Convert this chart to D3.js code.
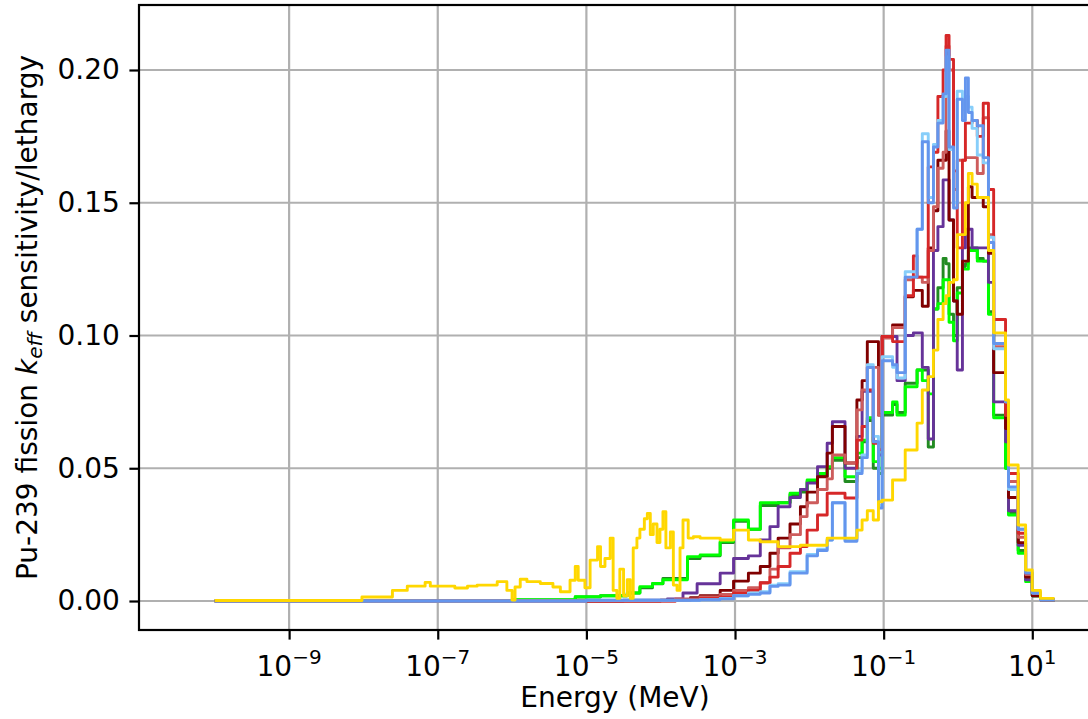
<!DOCTYPE html>
<html>
<head>
<meta charset="utf-8">
<script src="https://cdn.jsdelivr.net/npm/d3@7"></script>
<style>
body { margin: 0; background: #fff; }
svg { display: block; font-family: "DejaVu Sans", sans-serif; }
</style>
</head>
<body>
<svg id="fig" width="1088" height="719"></svg>
<script>

//------------------- data : log10(E / MeV) bin starts and sensitivity per lethargy -------------------

// group edges shared by every case above ~3e-4 MeV
const hiEdges = [-3.47, -3.20, -3.02, -2.82, -2.66, -2.53, -2.42, -2.26, -2.12, -2.03,
    -1.89, -1.76, -1.69, -1.52, -1.36, -1.29, -1.22, -1.14, -1.07, -1.02,
    -0.88, -0.82, -0.71, -0.60, -0.55, -0.48, -0.40, -0.33, -0.27, -0.20,
    -0.16, -0.12, -0.06, -0.01, 0.06, 0.10, 0.14, 0.19, 0.26, 0.34,
    0.41, 0.48, 0.64, 0.68, 0.81, 0.91, 1.00, 1.11, 1.30]

// low energy part, [log10 E, value]
const goldLo = [[-10.0, 0.0002], [-8.02, 0.0015], [-7.61, 0.004], [-7.41, 0.0056], [-7.17, 0.007],
    [-7.10, 0.0056], [-6.77, 0.0049], [-6.60, 0.0056], [-6.47, 0.006], [-6.20, 0.0073],
    [-6.07, 0.004], [-6.00, 0.0004], [-5.96, 0.0053], [-5.89, 0.0082], [-5.80, 0.0073],
    [-5.62, 0.0066], [-5.45, 0.0053], [-5.35, 0.0035], [-5.22, 0.0078], [-5.15, 0.013],
    [-5.11, 0.0078], [-5.02, 0.005], [-4.95, 0.0154], [-4.85, 0.0205], [-4.81, 0.013],
    [-4.75, 0.016], [-4.68, 0.0237], [-4.64, 0.004], [-4.59, 0.001], [-4.55, 0.012],
    [-4.50, 0.002], [-4.45, 0.008], [-4.41, 0.001], [-4.37, 0.02], [-4.32, 0.0237],
    [-4.28, 0.027], [-4.22, 0.031], [-4.18, 0.033], [-4.14, 0.025], [-4.10, 0.029],
    [-4.05, 0.022], [-4.01, 0.027], [-3.97, 0.0336], [-3.93, 0.02], [-3.87, 0.026],
    [-3.83, 0.006], [-3.78, 0.004], [-3.74, 0.02], [-3.70, 0.0305], [-3.63, 0.0237],
    [-3.56, 0.0242]]
const limeLo = [[-10.0, 0], [-6.0, 0.0005], [-5.15, 0.0016], [-4.81, 0.002], [-4.45, 0.003],
    [-4.28, 0.0054], [-4.11, 0.0066], [-3.97, 0.008], [-3.64, 0.0167]]
const forestLo = [[-10.0, 0], [-6.0, 0.0004], [-5.15, 0.0015], [-4.81, 0.002], [-4.45, 0.003],
    [-4.28, 0.005], [-4.11, 0.0065], [-3.97, 0.0085], [-3.64, 0.016]]
const purpleLo = [[-10.0, 0], [-4.5, 0.0003], [-3.91, 0.0008], [-3.70, 0.003], [-3.51, 0.0065]]
const maroonLo = [[-10.0, 0], [-4.0, 0.0003], [-3.6, 0.0012]]
const redLo = [[-10.0, 0], [-3.8, 0.0005]]
const indianLo = [[-10.0, 0], [-3.8, 0.0008]]
const skyLo = [[-10.0, 0], [-5.0, 0.0003]]
const cornLo = [[-10.0, 0], [-5.0, 0.0003]]

// values on hiEdges bins
const goldHi = [0.0237, 0.023, 0.0267, 0.023, 0.0223, 0.0223, 0.0205, 0.0205,
    0.021, 0.021, 0.021, 0.0237, 0.0237, 0.0237, 0.0267, 0.0305,
    0.034, 0.0305, 0.0374, 0.038, 0.0456, 0.0456, 0.0569, 0.0569,
    0.067, 0.0795, 0.0845, 0.0945, 0.106, 0.112, 0.115, 0.12,
    0.121, 0.138, 0.138, 0.15, 0.161, 0.157, 0.152, 0.152,
    0.132, 0.101, 0.0757, 0.0512, 0.0286, 0.0117, 0.004, 0.001]
const limeHi = [0.0173, 0.0225, 0.0305, 0.027, 0.037, 0.037, 0.037, 0.0406,
    0.042, 0.0456, 0.048, 0.0506, 0.054, 0.0468, 0.0557, 0.0606,
    0.069, 0.0525, 0.05, 0.071, 0.075, 0.070, 0.0807, 0.0807,
    0.087, 0.083, 0.078, 0.11, 0.112, 0.121, 0.121, 0.105,
    0.098, 0.116, 0.125, 0.125, 0.132, 0.132, 0.128, 0.128,
    0.108, 0.069, 0.05, 0.0324, 0.018, 0.0073, 0.002, 0.0005]
const forestHi = [0.017, 0.022, 0.03, 0.027, 0.036, 0.036, 0.037, 0.04,
    0.041, 0.045, 0.047, 0.05, 0.053, 0.045, 0.054, 0.06,
    0.068, 0.05, 0.048, 0.07, 0.074, 0.071, 0.082, 0.082,
    0.087, 0.087, 0.058, 0.11, 0.118, 0.129, 0.127, 0.108,
    0.1, 0.118, 0.126, 0.127, 0.133, 0.133, 0.129, 0.128,
    0.109, 0.07, 0.05, 0.033, 0.019, 0.008, 0.002, 0.0005]
const purpleHi = [0.0065, 0.0105, 0.016, 0.017, 0.023, 0.028, 0.0355, 0.039,
    0.042, 0.0444, 0.0506, 0.0594, 0.0675, 0.05, 0.062, 0.079,
    0.079, 0.06, 0.055, 0.0996, 0.0996, 0.083, 0.100, 0.101,
    0.101, 0.088, 0.061, 0.132, 0.141, 0.1586, 0.1586, 0.1435,
    0.113, 0.087, 0.133, 0.14, 0.14, 0.133, 0.133, 0.133,
    0.12, 0.075, 0.06, 0.034, 0.021, 0.008, 0.002, 0.0005]
const maroonHi = [0.002, 0.004, 0.0075, 0.0105, 0.013, 0.018, 0.0237, 0.029,
    0.0355, 0.041, 0.0468, 0.0557, 0.0657, 0.052, 0.0757, 0.083,
    0.0977, 0.0977, 0.07, 0.0996, 0.104, 0.104, 0.1146, 0.117,
    0.117, 0.111, 0.133, 0.147, 0.166, 0.166, 0.177, 0.1435,
    0.113, 0.108, 0.128, 0.128, 0.156, 0.152, 0.152, 0.1485,
    0.131, 0.086, 0.065, 0.039, 0.022, 0.009, 0.002, 0.0005]
const redHi = [0.001, 0.0015, 0.003, 0.004, 0.0068, 0.009, 0.013, 0.018,
    0.0205, 0.0267, 0.0324, 0.0406, 0.0406, 0.0388, 0.0606, 0.0657,
    0.0795, 0.0594, 0.057, 0.0996, 0.0977, 0.0977, 0.115, 0.13,
    0.122, 0.122, 0.1635, 0.169, 0.19, 0.20, 0.213, 0.204,
    0.162, 0.133, 0.166, 0.18, 0.18, 0.181, 0.175, 0.1875,
    0.155, 0.106, 0.07, 0.048, 0.0255, 0.0105, 0.003, 0.0005]
const indianHi = [0.0015, 0.0025, 0.004, 0.005, 0.007, 0.012, 0.02, 0.025,
    0.0318, 0.037, 0.042, 0.046, 0.055, 0.052, 0.072, 0.0795,
    0.088, 0.088, 0.07, 0.099, 0.103, 0.103, 0.121, 0.122,
    0.122, 0.12, 0.132, 0.1485, 0.163, 0.169, 0.209, 0.2,
    0.155, 0.166, 0.166, 0.167, 0.167, 0.167, 0.161, 0.182,
    0.138, 0.0958, 0.07, 0.045, 0.024, 0.01, 0.003, 0.0005]
const skyHi = [0.0005, 0.001, 0.002, 0.003, 0.0035, 0.006, 0.0065, 0.011,
    0.011, 0.0175, 0.0195, 0.023, 0.037, 0.023, 0.049, 0.055,
    0.089, 0.062, 0.036, 0.092, 0.088, 0.084, 0.124, 0.124,
    0.14, 0.176, 0.152, 0.172, 0.181, 0.19, 0.205, 0.17,
    0.15, 0.192, 0.185, 0.19, 0.186, 0.178, 0.168, 0.165,
    0.137, 0.095, 0.075, 0.042, 0.027, 0.011, 0.003, 0.0005]
const cornHi = [0.0005, 0.0008, 0.002, 0.0025, 0.003, 0.0055, 0.006, 0.0105,
    0.0105, 0.017, 0.019, 0.023, 0.037, 0.0225, 0.048, 0.054,
    0.088, 0.06, 0.035, 0.0905, 0.089, 0.086, 0.122, 0.122,
    0.14, 0.173, 0.150, 0.171, 0.180, 0.191, 0.2075, 0.171,
    0.148, 0.189, 0.181, 0.197, 0.184, 0.181, 0.179, 0.167,
    0.135, 0.097, 0.075, 0.043, 0.027, 0.0105, 0.003, 0.0005]

const xTicks = [1e-9, 1e-7, 1e-5, 1e-3, 1e-1, 1e1]
const xTickExp = ["\u22129", "\u22127", "\u22125", "\u22123", "\u22121", "1"]
const yTicks = [0.00, 0.05, 0.10, 0.15, 0.20]

// drawing order, last one on top
const series = [
    { lo: forestLo, hi: forestHi, color: "#228b22" },
    { lo: limeLo, hi: limeHi, color: "#00ff00" },
    { lo: purpleLo, hi: purpleHi, color: "#663399" },
    { lo: maroonLo, hi: maroonHi, color: "#800000" },
    { lo: indianLo, hi: indianHi, color: "#cd5c5c" },
    { lo: redLo, hi: redHi, color: "#d62728" },
    { lo: skyLo, hi: skyHi, color: "#87cefa" },
    { lo: cornLo, hi: cornHi, color: "#6495ed" },
    { lo: goldLo, hi: goldHi, color: "#ffd700" }
]

//------------------- figure -------------------

const pLeft = 139, pRight = 1091, pTop = 5, pBottom = 630
const fontSize = 28
const svg = d3.select("#fig")

const x = d3.scaleLog().domain([Math.pow(10, -11.02), Math.pow(10, 1.79)]).range([pLeft, pRight])
const y = d3.scaleLinear().domain([-0.01092, 0.22448]).range([pBottom, pTop])

svg.append("defs").append("clipPath").attr("id", "plotclip")
    .append("rect").attr("x", pLeft).attr("y", pTop).attr("width", pRight - pLeft).attr("height", pBottom - pTop)

// grid
const grid = svg.append("g").attr("stroke", "#b0b0b0").attr("stroke-width", 2.2)
grid.selectAll(".gx").data(xTicks).enter().append("line")
    .attr("x1", d => x(d)).attr("x2", d => x(d)).attr("y1", pTop).attr("y2", pBottom)
grid.selectAll(".gy").data(yTicks).enter().append("line")
    .attr("x1", pLeft).attr("x2", pRight).attr("y1", d => y(d)).attr("y2", d => y(d))

// one step line per case
function points(s) {
    var pts = s.lo.slice()
    for (var i = 0; i < s.hi.length; i++) {
        pts.push([hiEdges[i], s.hi[i]])
    }
    pts.push([hiEdges[hiEdges.length - 1], s.hi[s.hi.length - 1]])
    return pts
}

const line = d3.line()
    .x(d => x(Math.pow(10, d[0])))
    .y(d => y(d[1]))
    .curve(d3.curveStepAfter)

const curves = svg.append("g").attr("clip-path", "url(#plotclip)")
for (var s of series) {
    curves.append("path")
        .attr("d", line(points(s)))
        .attr("fill", "none")
        .attr("stroke", s.color)
        .attr("stroke-width", 2.9)
        .attr("stroke-linejoin", "round")
}

// axes
const xAxis = svg.append("g").attr("transform", "translate(0," + pBottom + ")")
    .call(d3.axisBottom(x).tickValues(xTicks).tickSize(9.6).tickPadding(9.6).tickFormat(""))
const yAxis = svg.append("g").attr("transform", "translate(" + pLeft + ",0)")
    .call(d3.axisLeft(y).tickValues(yTicks).tickSize(9.6).tickPadding(9.6).tickFormat(d3.format(".2f")))

for (var ax of [xAxis, yAxis]) {
    ax.select(".domain").remove()
    ax.selectAll(".tick line").attr("stroke", "#000").attr("stroke-width", 2.2)
}
yAxis.selectAll(".tick text").attr("font-size", fontSize).attr("font-family", "DejaVu Sans").attr("fill", "#000")

xTicks.forEach(function (t, i) {
    var lab = svg.append("text")
        .attr("x", x(t)).attr("y", 676)
        .attr("text-anchor", "middle")
        .attr("font-size", fontSize)
        .attr("fill", "#000")
    lab.append("tspan").text("10")
    lab.append("tspan").attr("dy", -12).attr("font-size", 20).text(xTickExp[i])
})

// frame (right side is cut off by the figure edge)
svg.append("rect")
    .attr("x", pLeft).attr("y", pTop).attr("width", pRight - pLeft).attr("height", pBottom - pTop)
    .attr("fill", "none").attr("stroke", "#000").attr("stroke-width", 2.2)

// labels
svg.append("text")
    .attr("x", (pLeft + pRight) / 2).attr("y", 707)
    .attr("text-anchor", "middle").attr("font-size", fontSize)
    .text("Energy (MeV)")

const yl = svg.append("text")
    .attr("transform", "translate(37," + (pTop + pBottom) / 2 + ") rotate(-90)")
    .attr("text-anchor", "middle").attr("font-size", fontSize)
yl.append("tspan").text("Pu-239 fission ")
yl.append("tspan").attr("font-style", "italic").text("k")
yl.append("tspan").attr("font-style", "italic").attr("font-size", 20).attr("dy", 5).text("eff")
yl.append("tspan").attr("dy", -5).text(" sensitivity/lethargy")

</script>
</body>
</html>
